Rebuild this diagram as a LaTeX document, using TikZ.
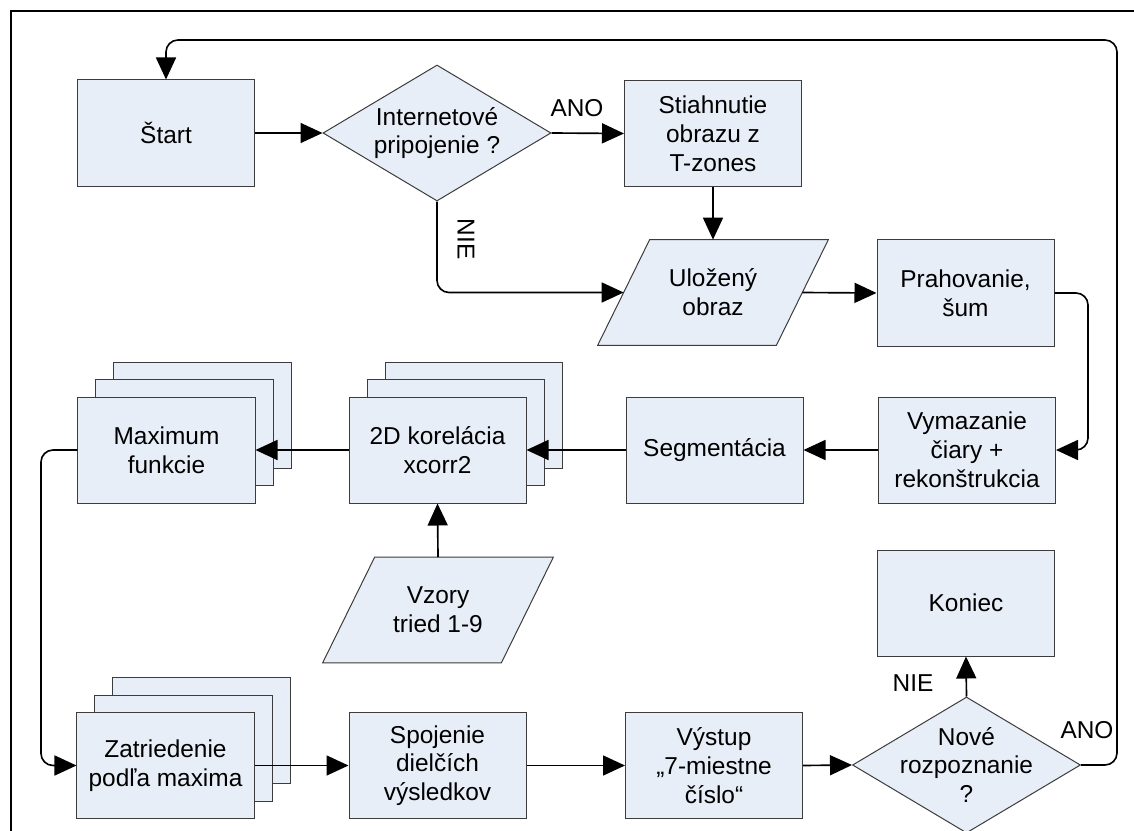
\documentclass[tikz,border=0pt]{standalone}
\usepackage{fontspec}
\setmainfont{Liberation Sans}
\usetikzlibrary{shapes.geometric,arrows.meta,calc,backgrounds}
\definecolor{boxfill}{RGB}{232,238,247}
\definecolor{boxline}{RGB}{60,60,60}

\begin{document}
\begin{tikzpicture}[x=0.2mm,y=-0.2mm,
  txt/.style={font=\fontsize{13.9pt}{16.4pt}\selectfont, align=center, text=black},
  ghost/.style={draw=boxline, line width=0.2mm, fill=boxfill,
    minimum width=35.4mm, minimum height=21.2mm, inner sep=0pt},
  proc/.style={ghost, txt},
  decision/.style={diamond, draw=boxline, line width=0.2mm, fill=boxfill,
    minimum width=45.6mm, minimum height=27.2mm, inner sep=0pt, aspect=1.68},
  iotext/.style={txt, minimum width=35.6mm, minimum height=21mm, inner sep=0pt},
  iobox/.style={draw=boxline, line width=0.2mm, fill=boxfill},
  conn/.style={draw=black, line width=0.33mm, rounded corners=2.4mm,
    -{Triangle[length=4.4mm,width=4mm]}},
  lbl/.style={txt, inner sep=0pt},
  frameline/.style={line width=0.52mm, line join=miter}
]
\useasboundingbox (0,0) rectangle (1134,831);

% outer frame
\draw[frameline] (11,840) -- (11,11) -- (1140,11);

% top row
\node[proc] (start) at (166,133) {Štart};
\node[decision, label={[txt]center:{Internetové\\pripojenie ?}}] (dec1) at (437,133) {};
\node[proc] (dl) at (713,133.5) {Stiahnutie\\obrazu z\\T-zones};

% second row
\node[iotext] (ulo) at (713,292.5) {Uložený\\obraz};
\node[proc] (prah) at (965.5,293) {Prahovanie,\\šum};

% third row
\node[proc] (vym) at (967,450) {Vymazanie\\čiary +\\rekonštrukcia};
\node[proc] (seg) at (714.5,450) {Segmentácia};
\node[ghost] (kor3) at (473.5,415) {};
\node[ghost] (kor2) at (455.5,432.5) {};
\node[proc] (kor) at (437.5,450) {2D korelácia\\xcorr2};
\node[ghost] (max3) at (202.5,415) {};
\node[ghost] (max2) at (184.5,432.5) {};
\node[proc] (max) at (166.5,450) {Maximum\\funkcie};

% fourth row
\node[iotext] (vzory) at (438,610) {Vzory\\tried 1-9};
\node[proc] (kon) at (966,603) {Koniec};

% bottom row
\node[ghost] (zat3) at (201.5,730.5) {};
\node[ghost] (zat2) at (183.5,748) {};
\node[proc] (zat) at (165.5,765.5) {Zatriedenie\\podľa maxima};
\node[proc] (spoj) at (437.5,765.5) {Spojenie\\dielčích\\výsledkov};
\node[proc] (vys) at (714,765.5) {Výstup\\„7-miestne\\číslo“};
\node[decision, label={[txt]center:{Nové\\rozpoznanie\\?}}] (dec2) at (966.5,765) {};

% data (parallelogram) shapes behind their texts
\begin{pgfonlayer}{background}
\foreach \n in {ulo,vzory}
  \draw[iobox] ($(\n.north west)+(26,0)$) -- ($(\n.north east)+(26,0)$)
    -- ($(\n.south east)+(-26,0)$) -- ($(\n.south west)+(-26,0)$) -- cycle;
\end{pgfonlayer}

% bend points
\coordinate (rp) at (1088,293);
\coordinate (lp) at (41,450);
\coordinate (ar) at (1117,40);

% connectors
\draw[conn] (start.east) -- (dec1.west);
\draw[conn] (dec1.east) -- (dl.west);
\draw[conn] (dec1.south) |- (ulo.west);
\draw[conn] (dl.south) -- (ulo.north);
\draw[conn] (ulo.east) -- (prah.west);
\draw[conn] (prah.east) -- (rp) |- (vym.east);
\draw[conn] (vym.west) -- (seg.east);
\draw[conn] (seg.west) -- (kor.east);
\draw[conn] (kor.west) -- (max.east);
\draw[conn] (vzory.north) -- (kor.south);
\draw[conn] (max.west) -- (lp) |- (zat.west);
\draw[conn] (zat.east) -- (spoj.west);
\draw[conn] (spoj.east) -- (vys.west);
\draw[conn] (vys.east) -- (dec2.west);
\draw[conn] (dec2.north) -- (kon.south);
\draw[conn] (dec2.east) -| (ar) -| (start.north);

% branch labels
\node[lbl] (ano1) at (577,108) {ANO};
\node[lbl, rotate=-90] (nie1) at (466,239) {NIE};
\node[lbl] (nie2) at (913,683) {NIE};
\node[lbl] (ano2) at (1087,730) {ANO};
\end{tikzpicture}
\end{document}
